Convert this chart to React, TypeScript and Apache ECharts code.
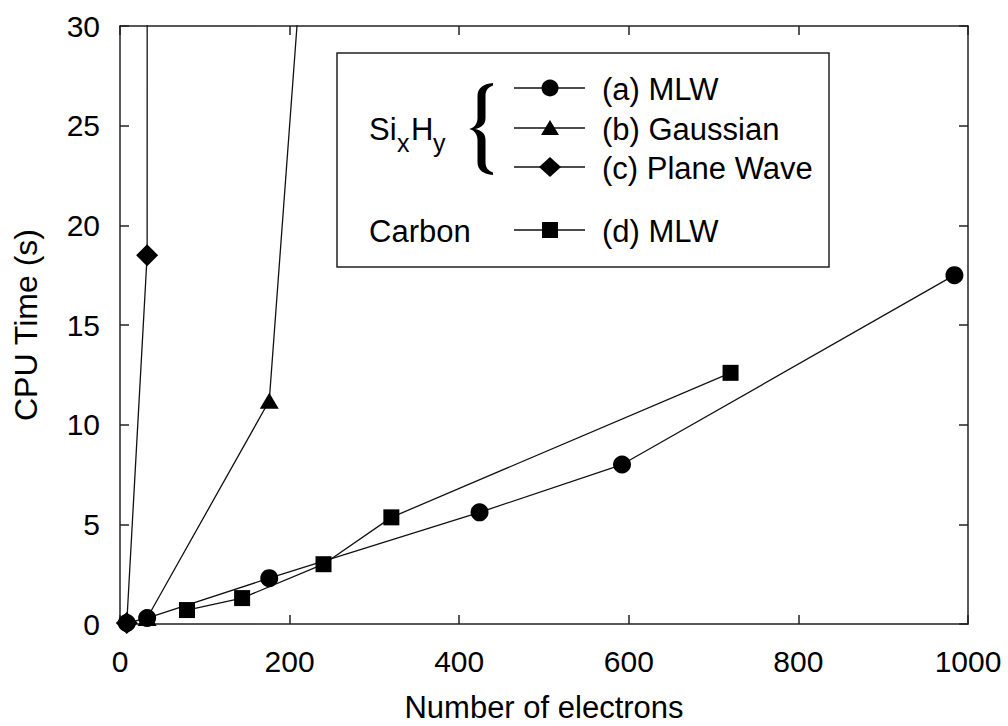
import React, { useEffect, useRef } from "react";
import * as echarts from "echarts";

// ---- data ----
const xTicks = [0, 200, 400, 600, 800, 1000];
const yTicks = [0, 5, 10, 15, 20, 25, 30];

const mlwSiH: [number, number][] = [
  [8, 0.05], [32, 0.3], [176, 2.3], [424, 5.6], [592, 8.0], [984, 17.5],
];
const gaussianSiH: [number, number][] = [
  [32, 0.3], [176, 11.2], [240, 48],
];
const planeWaveSiH: [number, number][] = [
  [8, 0.05], [32, 18.5], [33, 250],
];
const mlwCarbon: [number, number][] = [
  [79, 0.7], [144, 1.3], [240, 3.0], [320, 5.35], [720, 12.6],
];

const legendLabels = ["(a) MLW", "(b) Gaussian", "(c) Plane Wave", "(d) MLW"];
const xTitle = "Number of electrons";
const yTitle = "CPU Time (s)";

const FONT = "Liberation Sans, Arial, Helvetica, sans-serif";

let braceRegistered = false;
function registerBrace() {
  if (braceRegistered) return;
  const d =
    "M24,0 C14,1 8.5,5 8.5,13 L8.5,35 C8.5,41 5,45 0,46 C5,47 8.5,51 8.5,57 L8.5,79 C8.5,87 14,91 24,92 L24,89.5 C19.5,88 16.5,85 16.5,79 L16.5,57 C16.5,50 12,47.5 6,46 C12,44.5 16.5,42 16.5,35 L16.5,13 C16.5,7 19.5,4 24,2.5 Z";
  echarts.graphic.registerShape("brace", echarts.graphic.extendPath(d, {}) as any);
  braceRegistered = true;
}

export default function App() {
  const ref = useRef<HTMLDivElement>(null);

  useEffect(() => {
    if (!ref.current) return;
    registerBrace();
    const chart = echarts.init(ref.current, undefined, { renderer: "svg" });

    const axisLineStyle = { color: "#222", width: 1.5 };
    const tickCommon = { show: true, inside: true, length: 9, lineStyle: { color: "#222", width: 1.5 } };

    const lineSeries = (name: string, data: [number, number][], symbol: string, size: any) => ({
      type: "line",
      name,
      data,
      symbol,
      symbolSize: size,
      showSymbol: true,
      clip: true,
      lineStyle: { color: "#111", width: 1.3 },
      itemStyle: { color: "#000", borderWidth: 0 },
      emphasis: { disabled: true },
      z: 3,
    });

    // legend geometry
    const lx0 = 514, lx1 = 585, mx = 550;
    const rows = [88, 128, 167, 230];
    const LF = `31px ${FONT}`;
    const graphics: any[] = [
      {
        type: "rect",
        shape: { x: 337, y: 53, width: 492, height: 214 },
        style: { fill: "#fff", stroke: "#222", lineWidth: 1.5 },
        z: 10,
      },
    ];
    rows.forEach((y, i) => {
      graphics.push({
        type: "line",
        shape: { x1: lx0, y1: y, x2: lx1, y2: y },
        style: { stroke: "#111", lineWidth: 1.3 },
        z: 11,
      });
      graphics.push({
        type: "text",
        x: 602,
        y: y + 1,
        style: { text: legendLabels[i], font: LF, fill: "#000", verticalAlign: "middle", align: "left" },
        z: 11,
      });
    });
    // legend markers
    graphics.push({ type: "circle", shape: { cx: mx, cy: rows[0], r: 8.5 }, style: { fill: "#000" }, z: 12 });
    graphics.push({
      type: "polygon",
      shape: { points: [[mx - 9, rows[1] + 7], [mx + 9, rows[1] + 7], [mx, rows[1] - 8]] },
      style: { fill: "#000" },
      z: 12,
    });
    graphics.push({
      type: "polygon",
      shape: { points: [[mx - 11, rows[2]], [mx, rows[2] - 10], [mx + 11, rows[2]], [mx, rows[2] + 10]] },
      style: { fill: "#000" },
      z: 12,
    });
    graphics.push({ type: "rect", shape: { x: mx - 8, y: rows[3] - 8, width: 16, height: 16 }, style: { fill: "#000" }, z: 12 });
    // Si_x H_y label
    graphics.push({ type: "text", x: 369, y: 129, style: { text: "Si", font: LF, fill: "#000", verticalAlign: "middle" }, z: 11 });
    graphics.push({ type: "text", x: 397, y: 143, style: { text: "x", font: `25px ${FONT}`, fill: "#000", verticalAlign: "middle" }, z: 11 });
    graphics.push({ type: "text", x: 411, y: 129, style: { text: "H", font: LF, fill: "#000", verticalAlign: "middle" }, z: 11 });
    graphics.push({ type: "text", x: 433, y: 143, style: { text: "y", font: `25px ${FONT}`, fill: "#000", verticalAlign: "middle" }, z: 11 });
    graphics.push({ type: "text", x: 369, y: rows[3] + 1, style: { text: "Carbon", font: LF, fill: "#000", verticalAlign: "middle" }, z: 11 });
    graphics.push({ type: "brace", x: 469, y: 83, style: { fill: "#000" }, z: 11 });

    chart.setOption({
      animation: false,
      backgroundColor: "#fff",
      textStyle: { fontFamily: FONT },
      grid: { left: 120, right: 40, top: 26, bottom: 102, containLabel: false, outerBoundsMode: "none" },
      xAxis: [
        {
          type: "value",
          position: "bottom",
          min: xTicks[0],
          max: xTicks[xTicks.length - 1],
          interval: 200,
          name: xTitle,
          nameLocation: "middle",
          nameGap: 67,
          nameTextStyle: { fontSize: 31, color: "#000", fontFamily: FONT, lineHeight: 32 },
          axisLine: { show: true, onZero: false, lineStyle: axisLineStyle },
          axisTick: tickCommon,
          axisLabel: { fontSize: 30, color: "#000", margin: 22, fontFamily: FONT, formatter: (v: number) => String(v) },
          splitLine: { show: false },
        },
        {
          type: "value",
          position: "top",
          min: xTicks[0],
          max: xTicks[xTicks.length - 1],
          interval: 200,
          axisLine: { show: true, onZero: false, lineStyle: axisLineStyle },
          axisTick: tickCommon,
          axisLabel: { show: false },
          splitLine: { show: false },
        },
      ],
      yAxis: [
        {
          type: "value",
          position: "left",
          min: yTicks[0],
          max: yTicks[yTicks.length - 1],
          interval: 5,
          name: yTitle,
          nameLocation: "middle",
          nameGap: 78,
          nameTextStyle: { fontSize: 32, color: "#000", fontFamily: FONT },
          axisLine: { show: true, onZero: false, lineStyle: axisLineStyle },
          axisTick: tickCommon,
          axisLabel: { fontSize: 30, color: "#000", margin: 20, fontFamily: FONT, formatter: (v: number) => String(v) },
          splitLine: { show: false },
        },
        {
          type: "value",
          position: "right",
          min: yTicks[0],
          max: yTicks[yTicks.length - 1],
          interval: 5,
          axisLine: { show: true, onZero: false, lineStyle: axisLineStyle },
          axisTick: tickCommon,
          axisLabel: { show: false },
          splitLine: { show: false },
        },
      ],
      series: [
        lineSeries("(c) Plane Wave", planeWaveSiH, "diamond", 22),
        lineSeries("(b) Gaussian", gaussianSiH, "triangle", [19, 16]),
        lineSeries("(d) MLW", mlwCarbon, "rect", 16),
        lineSeries("(a) MLW", mlwSiH, "circle", 18),
      ],
      graphic: graphics,
    });

    return () => chart.dispose();
  }, []);

  return (
    <div
      ref={ref}
      style={{ position: "fixed", left: 0, top: 0, width: 1008, height: 726, background: "#fff" }}
    />
  );
}
